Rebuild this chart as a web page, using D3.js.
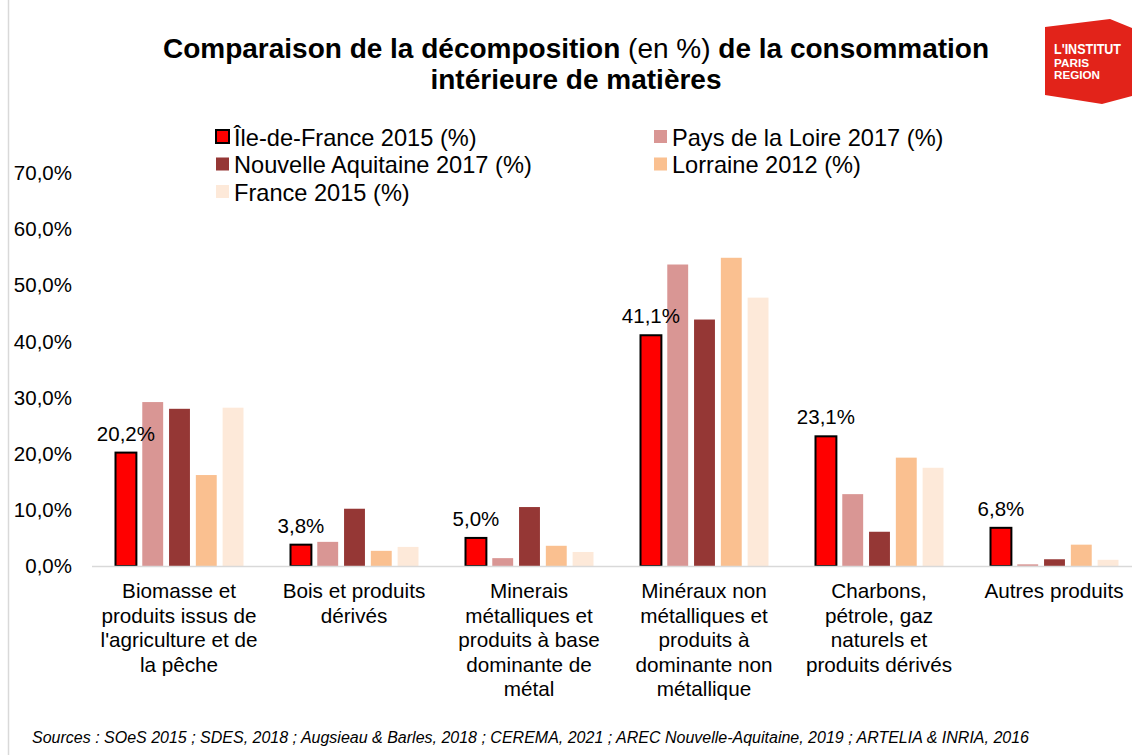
<!DOCTYPE html>
<html>
<head>
<meta charset="utf-8">
<script src="https://d3js.org/d3.v7.min.js"></script>
<style>
  body { margin: 0; background: #fff; }
  text { font-family: "Liberation Sans", Arial, sans-serif; fill: #000; }
</style>
</head>
<body>
<div id="my_dataviz"></div>
<script>

// data
var categories = [
  ["Biomasse et", "produits issus de", "l'agriculture et de", "la pêche"],
  ["Bois et produits", "dérivés"],
  ["Minerais", "métalliques et", "produits à base", "dominante de", "métal"],
  ["Minéraux non", "métalliques et", "produits à", "dominante non", "métallique"],
  ["Charbons,", "pétrole, gaz", "naturels et", "produits dérivés"],
  ["Autres produits"]
];
var series = ["Île-de-France 2015 (%)", "Pays de la Loire 2017 (%)", "Nouvelle Aquitaine 2017 (%)",
              "Lorraine 2012 (%)", "France 2015 (%)"];
var idf      = [20.2, 3.8, 5.0, 41.1, 23.1, 6.8];
var loire    = [29.2, 4.3, 1.4, 53.7, 12.8, 0.3];
var aquit    = [28.0, 10.2, 10.5, 43.9, 6.1, 1.2];
var lorraine = [16.2, 2.7, 3.6, 54.9, 19.3, 3.8];
var france   = [28.2, 3.4, 2.5, 47.8, 17.5, 1.1];
var yTicks = [0, 10, 20, 30, 40, 50, 60, 70];

var values = [idf, loire, aquit, lorraine, france];
var colors = ["#ff0000", "#d99694", "#953735", "#fac090", "#fde9d9"];

var W = 1132, H = 755;
var svg = d3.select("#my_dataviz").append("svg")
    .attr("width", W).attr("height", H);

// left frame line
svg.append("line")
  .attr("x1", 8.5).attr("x2", 8.5).attr("y1", 0).attr("y2", H)
  .attr("stroke", "#d9d9d9").attr("stroke-width", 1.5);

// title
var title = svg.append("text")
  .attr("x", 576).attr("y", 58)
  .attr("text-anchor", "middle")
  .style("font-size", "28px").style("font-weight", "bold");
title.append("tspan").text("Comparaison de la décomposition ");
title.append("tspan").style("font-weight", "normal").text("(en %)");
title.append("tspan").text(" de la consommation");
svg.append("text")
  .attr("x", 576).attr("y", 89)
  .attr("text-anchor", "middle")
  .style("font-size", "28px").style("font-weight", "bold")
  .text("intérieure de matières");

// logo
svg.append("polygon")
  .attr("points", "1045,27 1110,19 1132,28 1132,96 1102,104 1045,95")
  .attr("fill", "#e2231a");
svg.append("text").attr("x", 1054).attr("y", 54)
  .attr("textLength", 67).attr("lengthAdjust", "spacingAndGlyphs")
  .style("font-size", "14px").style("font-weight", "bold").style("fill", "#fff")
  .text("L'INSTITUT");
svg.append("text").attr("x", 1054).attr("y", 67)
  .attr("textLength", 35).attr("lengthAdjust", "spacingAndGlyphs")
  .style("font-size", "11px").style("font-weight", "bold").style("fill", "#fff")
  .text("PARIS");
svg.append("text").attr("x", 1054).attr("y", 79)
  .attr("textLength", 46).attr("lengthAdjust", "spacingAndGlyphs")
  .style("font-size", "11px").style("font-weight", "bold").style("fill", "#fff")
  .text("REGION");

// scales
var y = d3.scaleLinear().domain([0, 70]).range([566, 173]);
var x0 = d3.scaleBand().domain(d3.range(categories.length)).range([92, 1142]).padding(0);
var x1 = d3.scaleBand().domain(d3.range(series.length))
  .range([23.5, 151.5]).paddingInner(0.22).paddingOuter(0);

// y axis labels
svg.append("g").selectAll("text")
  .data(yTicks).enter().append("text")
    .attr("x", 72).attr("y", function(d) { return y(d); })
    .attr("dy", "0.35em")
    .attr("text-anchor", "end")
    .style("font-size", "20.5px")
    .text(function(d) { return d3.format(".1f")(d).replace(".", ",") + "%"; });

// bars
var groups = svg.append("g").selectAll("g")
  .data(categories).enter().append("g")
    .attr("transform", function(d, i) { return "translate(" + x0(i) + ",0)"; });

groups.selectAll("rect")
  .data(function(d, i) { return values.map(function(v, s) { return {s: s, v: v[i]}; }); })
  .enter().append("rect")
    .attr("x", function(d) { return x1(d.s); })
    .attr("y", function(d) { return y(d.v); })
    .attr("width", x1.bandwidth())
    .attr("height", function(d) { return y(0) - y(d.v); })
    .attr("fill", function(d) { return colors[d.s]; })
    .attr("stroke", function(d) { return d.s === 0 ? "#000" : "none"; })
    .attr("stroke-width", 2);

// x axis line
svg.append("line")
  .attr("x1", 92).attr("x2", W).attr("y1", 566.5).attr("y2", 566.5)
  .attr("stroke", "#d9d9d9").attr("stroke-width", 1.5);

// labels on Ile-de-France bars
groups.append("text")
  .attr("x", x1(0) + x1.bandwidth() / 2)
  .attr("y", function(d, i) { return y(idf[i]) - 12; })
  .attr("text-anchor", "middle")
  .style("font-size", "20.5px")
  .text(function(d, i) { return d3.format(".1f")(idf[i]).replace(".", ",") + "%"; });

// category labels
groups.append("text")
  .attr("text-anchor", "middle")
  .style("font-size", "20.7px")
  .selectAll("tspan")
  .data(function(d) { return d; })
  .enter().append("tspan")
    .attr("x", x0.bandwidth() / 2 - 0.5)
    .attr("y", function(d, i) { return 598 + i * 24.5; })
    .text(function(d) { return d; });

// legend
var legPos = [[216, 137], [654, 137], [216, 164.5], [654, 164.5], [216, 192]];
var leg = svg.append("g").selectAll("g")
  .data(series).enter().append("g")
    .attr("transform", function(d, i) { return "translate(" + legPos[i][0] + "," + legPos[i][1] + ")"; });
leg.append("rect")
  .attr("x", 0).attr("y", -7).attr("width", 13).attr("height", 13)
  .attr("fill", function(d, i) { return colors[i]; })
  .attr("stroke", function(d, i) { return i === 0 ? "#000" : "none"; })
  .attr("stroke-width", 2);
leg.append("text")
  .attr("x", 18).attr("y", 0).attr("dy", "0.36em")
  .style("font-size", "23.6px")
  .text(function(d) { return d; });

// sources
svg.append("text")
  .attr("x", 32).attr("y", 743)
  .style("font-size", "16px").style("font-style", "italic")
  .text("Sources : SOeS 2015 ; SDES, 2018 ; Augsieau & Barles, 2018 ; CEREMA, 2021 ; AREC Nouvelle-Aquitaine, 2019 ; ARTELIA & INRIA, 2016");

</script>
</body>
</html>
